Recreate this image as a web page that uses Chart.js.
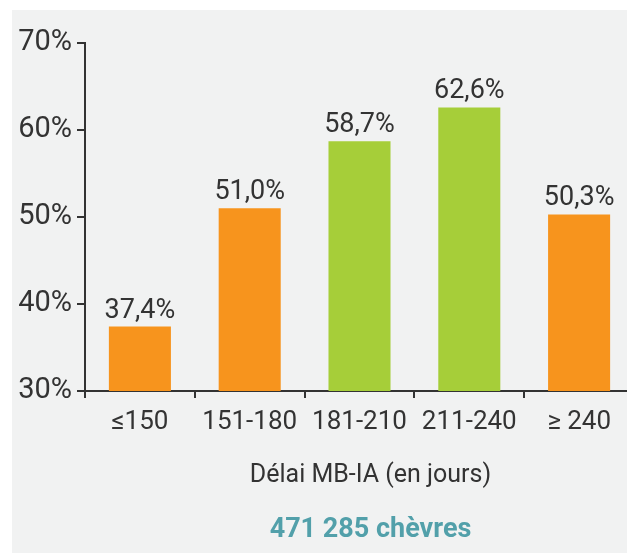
<!DOCTYPE html>
<html>
<head>
<meta charset="utf-8">
<script src="https://cdn.jsdelivr.net/npm/chart.js@4"></script>
<style>
  html, body { margin: 0; padding: 0; background: #ffffff; overflow: hidden; width: 627px; height: 556px; }
  #panel { position: absolute; left: 12px; top: 10px; width: 615px; height: 543px; background: #f1f2f2; }
  #wrap { position: absolute; left: 0; top: 0; width: 640px; height: 556px; }
</style>
</head>
<body>
<div id="panel"></div>
<div id="wrap"><canvas id="c" width="640" height="556"></canvas></div>
<script>
const categories = ['\u2264150', '151-180', '181-210', '211-240', '\u2265 240'];
const values = [37.4, 51.0, 58.7, 62.6, 50.3];
const barColors = ['#f7941d', '#f7941d', '#a6ce39', '#a6ce39', '#f7941d'];
const yTicks = [30, 40, 50, 60, 70];
const axisTitle = 'Délai MB-IA (en jours)';
const subTitle = '471 285 chèvres';

const textColor = '#333333';
const axisColor = '#333333';

const valueLabels = {
  id: 'valueLabels',
  afterDatasetsDraw(chart) {
    const ctx = chart.ctx;
    const meta = chart.getDatasetMeta(0);
    ctx.save();
    ctx.font = '400 27px Roboto';
    ctx.fillStyle = textColor;
    ctx.textAlign = 'center';
    ctx.textBaseline = 'alphabetic';
    meta.data.forEach((el, i) => {
      const txt = values[i].toFixed(1).replace('.', ',') + '%';
      ctx.fillText(txt, el.x, el.y - 9);
    });
    ctx.restore();
  }
};

const bottomTexts = {
  id: 'bottomTexts',
  afterDraw(chart) {
    const ctx = chart.ctx;
    const a = chart.chartArea;
    const cx = (a.left + a.right) / 2 + 11;
    ctx.save();
    ctx.textAlign = 'center';
    ctx.textBaseline = 'alphabetic';
    ctx.fillStyle = textColor;
    ctx.font = '400 25px Roboto';
    ctx.fillText(axisTitle, cx, a.bottom + 91);
    ctx.fillStyle = '#52a0aa';
    ctx.font = '700 27px Roboto';
    ctx.fillText(subTitle, cx, a.bottom + 146);
    ctx.restore();
  }
};

new Chart(document.getElementById('c'), {
  type: 'bar',
  data: {
    labels: categories,
    datasets: [{
      data: values,
      backgroundColor: barColors,
      borderWidth: 0,
      barPercentage: 0.565,
      categoryPercentage: 1.0
    }]
  },
  options: {
    responsive: false,
    animation: false,
    events: [],
    layout: { padding: { top: 43, right: 6, left: 0, bottom: 0 } },
    plugins: { legend: { display: false }, tooltip: { enabled: false }, title: { display: false } },
    scales: {
      x: {
        offset: true,
        afterFit(scale) { scale.height = 165; },
        grid: { offset: true, drawOnChartArea: false, drawTicks: true, tickLength: 7, color: axisColor, lineWidth: 2 },
        border: { display: true, color: axisColor, width: 2 },
        ticks: { color: textColor, font: { family: 'Roboto', size: 26, weight: '400' }, padding: 9, maxRotation: 0, autoSkip: false }
      },
      y: {
        min: 30,
        max: 70,
        afterFit(scale) { scale.width = 85; },
        afterBuildTicks(scale) { scale.ticks = yTicks.map(v => ({ value: v })); },
        grid: { drawOnChartArea: false, drawTicks: true, tickLength: 8, color: axisColor, lineWidth: 2 },
        border: { display: true, color: axisColor, width: 2 },
        ticks: { color: textColor, font: { family: 'Roboto', size: 29, weight: '400' }, padding: 5, callback: v => v + '%' }
      }
    }
  },
  plugins: [valueLabels, bottomTexts]
});
</script>
</body>
</html>
